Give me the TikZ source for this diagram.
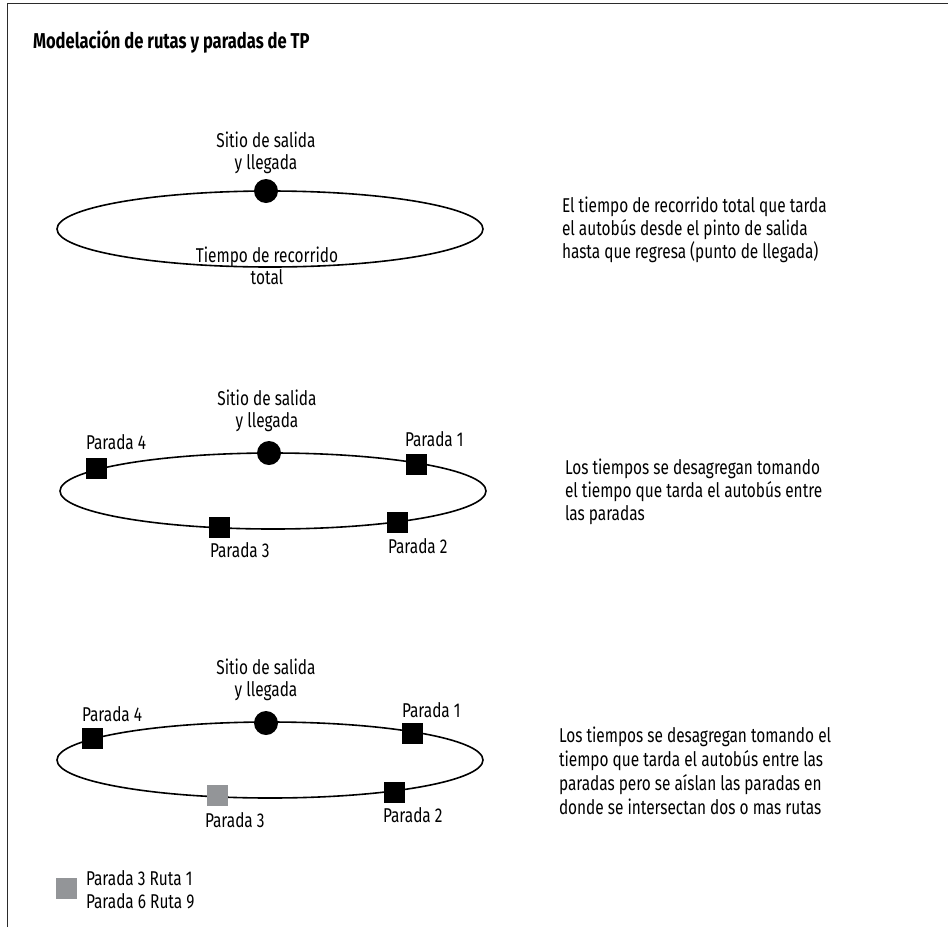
\documentclass[tikz,border=0pt]{standalone}
\usepackage{fontspec}
\setmainfont{Fira Sans}[FakeStretch=0.77]
\usetikzlibrary{shapes.geometric}
\definecolor{gris}{HTML}{939598}
\definecolor{marco}{HTML}{2B2B2B}
\begin{document}
\begin{tikzpicture}[x=1pt,y=-1pt,
  every node/.style={font=\fontsize{20}{24}\selectfont, inner sep=0pt, outer sep=0pt},
  ruta/.style={draw, ellipse, line width=1.6pt, minimum width=426pt, minimum height=76pt},
  origen/.style={circle, fill=black, minimum size=24pt},
  parada/.style={rectangle, fill=black, minimum size=21pt},
  aislada/.style={rectangle, fill=gris, minimum size=21pt},
  etiqueta/.style={anchor=base west},
  centrada/.style={anchor=base, align=center},
  nota/.style={anchor=base west, align=left}]
\useasboundingbox (0,0) rectangle (948,927);
% frame (top and left edges only)
\draw[marco, line width=1.8pt] (7.5,927) -- (7.5,3.5) -- (948,3.5);
\node[anchor=base west, font=\bfseries\fontsize{21.5}{25}\selectfont] (titulo) at (33,48) {Modelación de rutas y paradas de TP};

% --- route 1: total travel time
\node[ruta] (r1) at (270,229) {};
\node[origen] (o1) at (266,191) {};
\node[centrada] (s1a) at (266,147) {Sitio de salida};
\node[centrada] (s1b) at (266,169) {y llegada};
\node[centrada] (t1a) at (267,262) {Tiempo de recorrido};
\node[centrada] (t1b) at (267,284) {total};
\node[nota] (n1a) at (562,212) {El tiempo de recorrido total que tarda};
\node[nota] (n1b) at (562,235) {el autobús desde el pinto de salida};
\node[nota] (n1c) at (562,258) {hasta que regresa (punto de llegada)};

% --- route 2: times between stops
\node[ruta] (r2) at (273,491) {};
\node[origen] (o2) at (269,453) {};
\node[centrada] (s2a) at (267,405) {Sitio de salida};
\node[centrada] (s2b) at (267,427) {y llegada};
\node[parada] (p24) at (96,468) {};
\node[parada] (p21) at (416,464) {};
\node[parada] (p23) at (219,527) {};
\node[parada] (p22) at (397,522) {};
\node[etiqueta] (l24) at (86,449) {Parada 4};
\node[etiqueta] (l21) at (405,446) {Parada 1};
\node[etiqueta] (l23) at (210,557) {Parada 3};
\node[etiqueta] (l22) at (388,553) {Parada 2};
\node[nota] (n2a) at (565,474) {Los tiempos se desagregan tomando};
\node[nota] (n2b) at (565,497) {el tiempo que tarda el autobús entre};
\node[nota] (n2c) at (565,520) {las paradas};

% --- route 3: shared stops isolated
\node[ruta] (r3) at (270,760) {};
\node[origen] (o3) at (266,723) {};
\node[centrada] (s3a) at (266,674) {Sitio de salida};
\node[centrada] (s3b) at (266,696) {y llegada};
\node[parada] (p34) at (92,738) {};
\node[parada] (p31) at (412,733) {};
\node[aislada] (p33) at (217,795) {};
\node[parada] (p32) at (394,792) {};
\node[etiqueta] (l34) at (82,721) {Parada 4};
\node[etiqueta] (l31) at (402,717) {Parada 1};
\node[etiqueta] (l33) at (205,827) {Parada 3};
\node[etiqueta] (l32) at (383,822) {Parada 2};
\node[nota] (n3a) at (559,742) {Los tiempos se desagregan tomando el};
\node[nota] (n3b) at (559,766) {tiempo que tarda el autobús entre las};
\node[nota] (n3c) at (559,790) {paradas pero se aíslan las paradas en};
\node[nota] (n3d) at (559,814) {donde se intersectan dos o mas rutas};

% --- legend
\node[aislada] (ley) at (66,888) {};
\node[etiqueta] (ley1) at (86,885) {Parada 3 Ruta 1};
\node[etiqueta] (ley2) at (86,908) {Parada 6 Ruta 9};
\end{tikzpicture}
\end{document}
